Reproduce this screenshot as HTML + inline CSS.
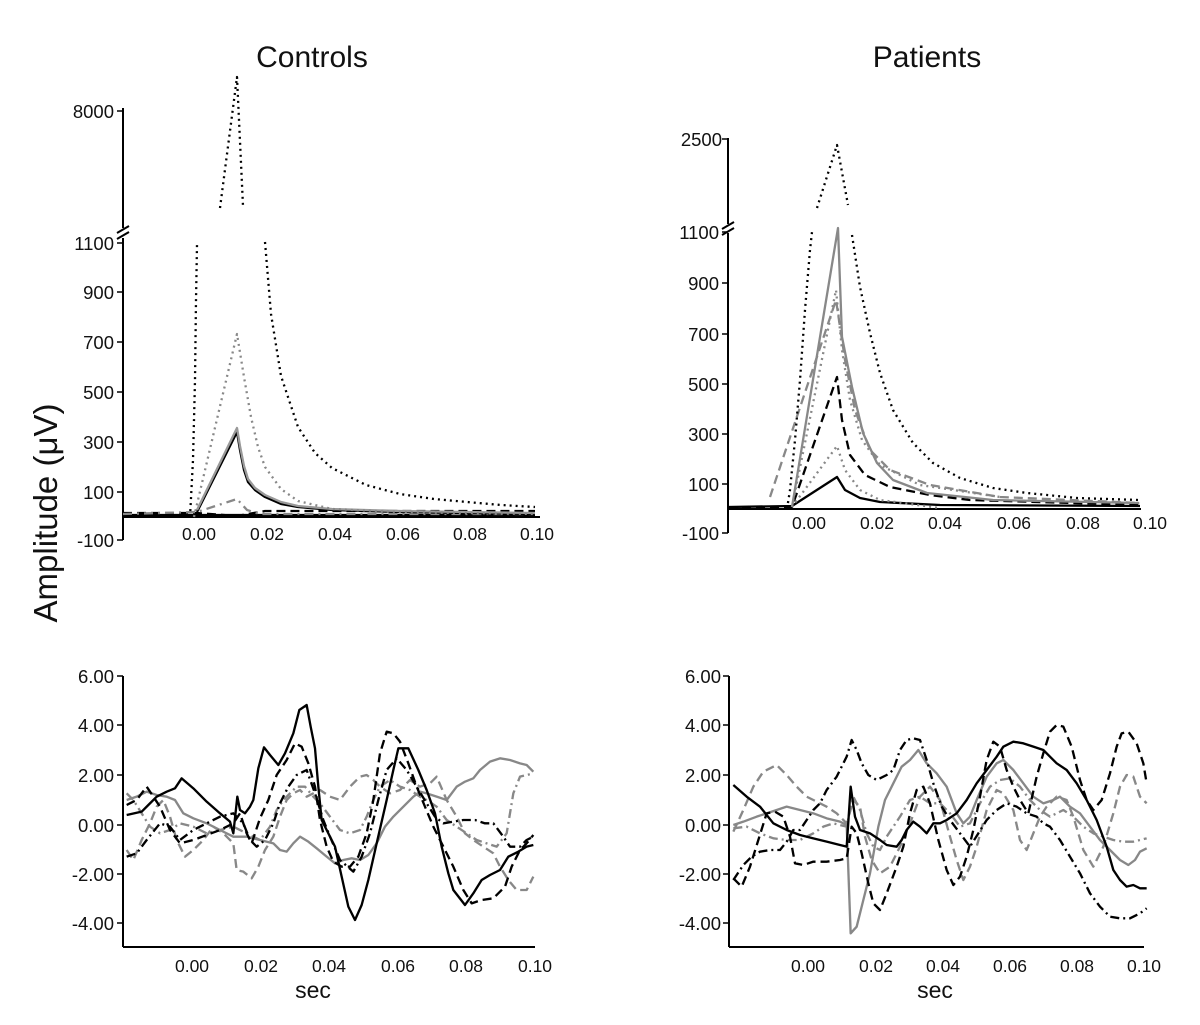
<!DOCTYPE html>
<html><head><meta charset="utf-8"><style>body{margin:0;background:#fff}svg{display:block}text{font-family:"Liberation Sans",Arial,sans-serif;fill:#111}</style></head><body>
<svg width="1200" height="1025" viewBox="0 0 1200 1025" xmlns="http://www.w3.org/2000/svg">
<rect width="1200" height="1025" fill="#fff"/>
<text x="312" y="67" font-size="30" text-anchor="middle">Controls</text>
<text x="927" y="67" font-size="30" text-anchor="middle">Patients</text>
<text transform="translate(57,513) rotate(-90)" font-size="33" text-anchor="middle">Amplitude (μV)</text>

<!-- ===== Top-left ===== -->
<g stroke="#000" stroke-width="2" fill="none">
<line x1="123" y1="108" x2="123" y2="228"/>
<line x1="123" y1="238" x2="123" y2="540"/>
<line x1="117" y1="233" x2="129" y2="226"/><line x1="117" y1="239" x2="129" y2="232"/>
<line x1="123" y1="517" x2="540" y2="517"/>
<g stroke-width="1.5"><line x1="117" y1="111" x2="123" y2="111"/><line x1="117" y1="243" x2="123" y2="243"/><line x1="117" y1="292" x2="123" y2="292"/><line x1="117" y1="342" x2="123" y2="342"/><line x1="117" y1="392" x2="123" y2="392"/><line x1="117" y1="442" x2="123" y2="442"/><line x1="117" y1="492" x2="123" y2="492"/><line x1="117" y1="540" x2="123" y2="540"/></g>
</g>
<g font-size="18.5" text-anchor="end">
<text x="114" y="118">8000</text><text x="114" y="250">1100</text><text x="114" y="299">900</text><text x="114" y="349">700</text><text x="114" y="399">500</text><text x="114" y="449">300</text><text x="114" y="499">100</text><text x="114" y="547">-100</text>
</g>
<g font-size="17.5" text-anchor="middle">
<text x="199" y="540">0.00</text><text x="267" y="540">0.02</text><text x="335" y="540">0.04</text><text x="403" y="540">0.06</text><text x="470" y="540">0.08</text><text x="537" y="540">0.10</text>
</g>
<g fill="none" stroke-width="2.3" stroke-linejoin="round">
<polyline stroke="#000" points="123,515 535,515"/>
<polyline stroke="#000" stroke-dasharray="9,5" points="123,513 197,513 237,516 265,511 535,511"/>
<polyline stroke="#888" stroke-dasharray="9,5,2,5" points="123,514 197,512 237,499 247,510 260,514 535,514"/>
<polyline stroke="#000" points="197,512 237,432 240,450 244,470 248,482 255,490 265,497 281,504 298,507 332,510 400,512 535,514"/>
<polyline stroke="#999" points="197,510 237,428 240,446 244,466 248,479 255,488 265,495 281,502 298,506 332,509 400,511 535,513"/>
<polyline stroke="#888" stroke-dasharray="2,4" points="194,517 237,334 244,377 251,417 258,447 265,467 281,489 298,501 332,509 400,512 535,514"/>
<polyline stroke="#000" stroke-dasharray="2,4" points="190,517 193,460 195,380 196,300 197,245"/>
<polyline stroke="#000" stroke-dasharray="2,4" points="265,242 271,314 281,376 298,427 315,453 332,468 366,485 400,494 434,499 467,502 501,505 535,507"/>
<polyline stroke="#000" stroke-dasharray="2,4" points="220,208 237,77 243,206"/>
</g>

<!-- ===== Top-right ===== -->
<g stroke="#000" stroke-width="2" fill="none">
<line x1="728" y1="138" x2="728" y2="224"/>
<line x1="728" y1="233" x2="728" y2="533"/>
<line x1="722" y1="229" x2="734" y2="222"/><line x1="722" y1="235" x2="734" y2="228"/>
<line x1="728" y1="509" x2="1141" y2="509"/>
<g stroke-width="1.5"><line x1="722" y1="139" x2="728" y2="139"/><line x1="722" y1="232" x2="728" y2="232"/><line x1="722" y1="283" x2="728" y2="283"/><line x1="722" y1="334" x2="728" y2="334"/><line x1="722" y1="384" x2="728" y2="384"/><line x1="722" y1="434" x2="728" y2="434"/><line x1="722" y1="484" x2="728" y2="484"/><line x1="722" y1="533" x2="728" y2="533"/></g>
</g>
<g font-size="18.5" text-anchor="end">
<text x="722" y="146">2500</text><text x="719" y="239">1100</text><text x="719" y="290">900</text><text x="719" y="341">700</text><text x="719" y="391">500</text><text x="719" y="441">300</text><text x="719" y="491">100</text><text x="719" y="540">-100</text>
</g>
<g font-size="17.5" text-anchor="middle">
<text x="809" y="529">0.00</text><text x="877" y="529">0.02</text><text x="945" y="529">0.04</text><text x="1014" y="529">0.06</text><text x="1083" y="529">0.08</text><text x="1150" y="529">0.10</text>
</g>
<g fill="none" stroke-width="2.3" stroke-linejoin="round">
<polyline stroke="#000" points="728,507 792,506 837,477 845,490 860,498 880,502 940,505 1140,506"/>
<polyline stroke="#000" stroke-dasharray="9,5" points="728,508 792,507 837,377 842,420 850,455 865,475 890,487 930,495 970,500 1140,505"/>
<polyline stroke="#888" stroke-dasharray="2,4" points="792,507 837,446 845,470 860,490 880,500 940,508"/>
<polyline stroke="#888" stroke-dasharray="2,4" points="792,507 836,290 842,350 850,400 862,440 880,465 920,485 1000,497"/>
<polyline stroke="#888" stroke-dasharray="9,5" points="770,497 836,300 845,360 855,410 870,450 890,470 930,485 1000,497 1140,503"/>
<polyline stroke="#888" points="792,507 838,228 842,337 852,387 863,433 877,463 893,480 927,493 993,500 1139,503"/>
<polyline stroke="#000" stroke-dasharray="2,4" points="787,509 790,490 795,440 800,380 805,310 810,250 812,232"/>
<polyline stroke="#000" stroke-dasharray="2,4" points="852,235 860,287 870,333 880,373 893,410 913,443 933,463 960,478 993,488 1027,493 1077,498 1139,500"/>
<polyline stroke="#000" stroke-dasharray="2,4" points="817,208 837,145 848,205"/>
</g>

<!-- ===== Bottom-left ===== -->
<g stroke="#000" stroke-width="2" fill="none">
<line x1="123" y1="676" x2="123" y2="947"/>
<line x1="123" y1="947" x2="535" y2="947"/>
<g stroke-width="1.5"><line x1="117" y1="676" x2="123" y2="676"/><line x1="117" y1="725" x2="123" y2="725"/><line x1="117" y1="775" x2="123" y2="775"/><line x1="117" y1="825" x2="123" y2="825"/><line x1="117" y1="874" x2="123" y2="874"/><line x1="117" y1="923" x2="123" y2="923"/></g>
</g>
<g font-size="18.5" text-anchor="end">
<text x="114" y="683">6.00</text><text x="114" y="732">4.00</text><text x="114" y="782">2.00</text><text x="114" y="832">0.00</text><text x="114" y="881">-2.00</text><text x="114" y="930">-4.00</text>
</g>
<g font-size="17.5" text-anchor="middle">
<text x="192" y="972">0.00</text><text x="261" y="972">0.02</text><text x="329" y="972">0.04</text><text x="398" y="972">0.06</text><text x="466" y="972">0.08</text><text x="535" y="972">0.10</text>
</g>
<text x="313" y="998" font-size="23" text-anchor="middle">sec</text>
<g transform="translate(60,660) scale(0.33333)" fill="none" stroke-linejoin="round">
<g stroke-width="7">
<polyline stroke="#888" points="200,420 230,410 260,395 290,405 320,410 345,420 370,460 400,475 440,490 480,510 520,530 560,530 600,540 640,550 660,570 680,575 700,550 720,530 745,545 770,565 800,590 825,610 850,600 875,595 900,600 925,585 950,550 975,500 1000,470 1030,440 1060,410 1080,395 1100,400 1130,410 1160,420 1190,380 1215,365 1240,355 1260,330 1290,305 1320,295 1350,300 1380,310 1400,315 1420,335"/>
<polyline stroke="#888" stroke-dasharray="27,15" points="200,570 220,600 245,540 270,490 290,440 310,420 330,470 350,540 375,590 400,570 430,540 460,500 490,520 520,550 530,630 550,635 575,655 595,620 615,570 640,530 660,470 680,420 700,400 720,390 740,410 760,400 780,390 810,410 840,420 870,380 900,350 920,345 940,360 960,380 990,400 1020,390 1050,360 1080,380 1110,370 1130,350 1160,420 1190,470 1215,520 1240,540 1270,560 1300,580 1320,620 1345,660 1370,690 1400,690 1420,650"/>
<polyline stroke="#888" stroke-dasharray="27,12,6,12" points="200,400 220,420 245,460 270,500 300,520 330,510 360,490 400,500 440,520 480,510 520,500 560,520 600,540 630,500 650,450 670,420 690,400 710,380 735,380 760,410 780,430 810,470 840,510 870,520 900,510 920,470 940,420 960,380 990,360 1020,380 1050,390 1080,410 1100,420 1130,440 1160,480 1190,500 1220,520 1250,540 1280,550 1310,560 1340,520 1360,400 1380,350 1400,345 1420,340"/>
<polyline stroke="#000" stroke-dasharray="27,12,6,12" points="200,590 230,580 260,540 300,490 330,500 360,540 400,510 440,490 480,470 520,460 550,490 570,540 590,560 615,540 640,490 660,430 685,380 710,345 740,330 765,400 790,480 810,530 840,600 880,635 905,590 930,520 955,420 980,330 1010,295 1040,330 1070,380 1100,430 1125,470 1150,490 1180,485 1210,480 1245,480 1275,490 1300,490 1330,530 1350,560 1380,560 1400,540 1420,530"/>
<polyline stroke="#000" stroke-dasharray="27,15" points="200,435 230,420 260,380 300,440 330,510 360,550 400,540 440,525 480,510 520,490 540,460 560,520 575,550 600,475 625,420 650,345 680,300 705,250 725,260 745,310 765,380 780,480 800,560 820,605 845,620 870,620 895,590 920,520 940,420 960,280 980,215 1000,220 1020,245 1045,310 1070,380 1095,440 1120,500 1150,560 1180,620 1210,690 1235,730 1265,720 1300,715 1335,680 1355,620 1380,570 1400,550 1420,525"/>
<polyline stroke="#000" points="200,465 245,455 265,435 290,410 320,395 345,385 365,355 400,385 440,425 480,460 510,485 520,520 532,410 540,450 555,460 570,440 580,420 595,325 612,262 630,285 655,315 675,280 700,220 718,150 740,135 752,200 765,265 775,380 785,480 800,510 825,560 845,650 865,740 885,780 905,735 925,660 950,550 980,420 1000,330 1015,265 1045,265 1075,330 1100,390 1125,460 1145,560 1165,640 1180,690 1215,735 1240,700 1265,660 1290,645 1320,630 1345,590 1375,575 1400,560 1420,555"/>
</g></g>

<!-- ===== Bottom-right ===== -->
<g stroke="#000" stroke-width="2" fill="none">
<line x1="729" y1="676" x2="729" y2="947"/>
<line x1="729" y1="947" x2="1144" y2="947"/>
<g stroke-width="1.5"><line x1="723" y1="676" x2="729" y2="676"/><line x1="723" y1="725" x2="729" y2="725"/><line x1="723" y1="775" x2="729" y2="775"/><line x1="723" y1="825" x2="729" y2="825"/><line x1="723" y1="874" x2="729" y2="874"/><line x1="723" y1="923" x2="729" y2="923"/></g>
</g>
<g font-size="18.5" text-anchor="end">
<text x="721" y="683">6.00</text><text x="721" y="732">4.00</text><text x="721" y="782">2.00</text><text x="721" y="832">0.00</text><text x="721" y="881">-2.00</text><text x="721" y="930">-4.00</text>
</g>
<g font-size="17.5" text-anchor="middle">
<text x="808" y="972">0.00</text><text x="876" y="972">0.02</text><text x="943" y="972">0.04</text><text x="1010" y="972">0.06</text><text x="1077" y="972">0.08</text><text x="1144" y="972">0.10</text>
</g>
<text x="935" y="998" font-size="23" text-anchor="middle">sec</text>
<g transform="translate(680,660) scale(0.33333)" fill="none" stroke-linejoin="round">
<g stroke-width="7">
<polyline stroke="#888" stroke-dasharray="27,12,6,12" points="160,505 200,500 240,520 280,535 320,540 360,540 400,520 430,500 460,490 500,500 520,410 540,450 560,520 580,560 600,570 620,530 640,500 660,470 690,420 720,410 750,430 780,430 810,460 840,500 870,490 900,430 930,380 960,360 990,355 1020,380 1050,420 1080,450 1110,470 1150,450 1180,470 1210,500 1240,520 1270,530 1300,540 1330,545 1360,545 1380,540 1400,535"/>
<polyline stroke="#888" stroke-dasharray="27,15" points="160,515 190,450 220,380 250,335 290,315 320,345 350,380 380,410 410,425 440,440 470,460 500,490 520,420 540,440 555,530 575,600 600,640 630,620 660,560 690,490 720,410 750,380 780,420 810,530 830,600 850,660 870,620 890,560 920,450 950,390 970,400 1000,450 1020,540 1040,570 1060,520 1080,470 1100,440 1130,410 1160,420 1180,470 1210,570 1240,620 1270,560 1300,460 1320,380 1340,345 1360,350 1380,410 1400,430"/>
<polyline stroke="#888" points="160,495 190,485 230,470 260,460 290,450 320,440 360,450 400,460 440,475 480,485 500,495 512,820 530,800 550,720 570,640 595,500 615,420 640,370 665,320 690,300 715,270 740,310 770,340 800,380 830,460 850,490 870,470 890,420 920,350 950,310 970,300 1000,330 1030,370 1060,410 1090,430 1120,420 1140,410 1170,440 1200,460 1230,500 1260,540 1290,570 1320,600 1345,615 1365,600 1380,575 1400,565"/>
<polyline stroke="#000" stroke-dasharray="27,12,6,12" points="160,660 190,615 215,590 240,575 270,570 300,570 320,545 340,510 360,510 380,480 400,450 420,430 440,390 470,350 500,290 515,240 530,270 545,310 565,345 590,360 620,345 640,330 660,270 680,240 700,235 720,240 740,300 760,370 785,440 810,480 840,520 870,560 895,520 920,480 950,450 980,430 1010,440 1040,460 1070,470 1090,490 1110,500 1140,540 1170,590 1200,640 1230,700 1260,740 1290,770 1320,775 1350,775 1380,760 1400,745"/>
<polyline stroke="#000" stroke-dasharray="27,15" points="160,655 185,680 210,620 235,540 260,460 285,455 310,470 330,530 345,610 370,615 400,605 440,605 480,600 500,595 515,500 530,520 545,580 565,670 580,730 600,750 620,700 650,620 670,560 690,460 710,390 730,380 750,430 775,540 800,630 820,675 840,650 860,590 880,510 900,410 920,300 940,245 960,260 980,330 1000,380 1020,420 1045,460 1070,350 1090,280 1110,215 1130,195 1150,200 1175,260 1200,360 1220,420 1240,450 1265,420 1290,340 1310,260 1325,220 1345,215 1370,250 1390,310 1400,370"/>
<polyline stroke="#000" points="160,375 200,410 240,440 280,490 320,510 360,525 400,535 440,545 480,555 500,560 512,380 525,470 540,510 570,520 600,540 620,555 650,560 665,540 680,510 700,485 720,500 740,520 760,490 780,490 800,480 830,460 860,420 890,370 920,330 950,290 970,260 1000,245 1030,250 1060,260 1090,270 1110,290 1130,310 1160,330 1190,370 1220,420 1250,480 1280,560 1300,630 1320,660 1340,680 1360,675 1380,685 1400,685"/>
</g></g>
</svg>
</body></html>
